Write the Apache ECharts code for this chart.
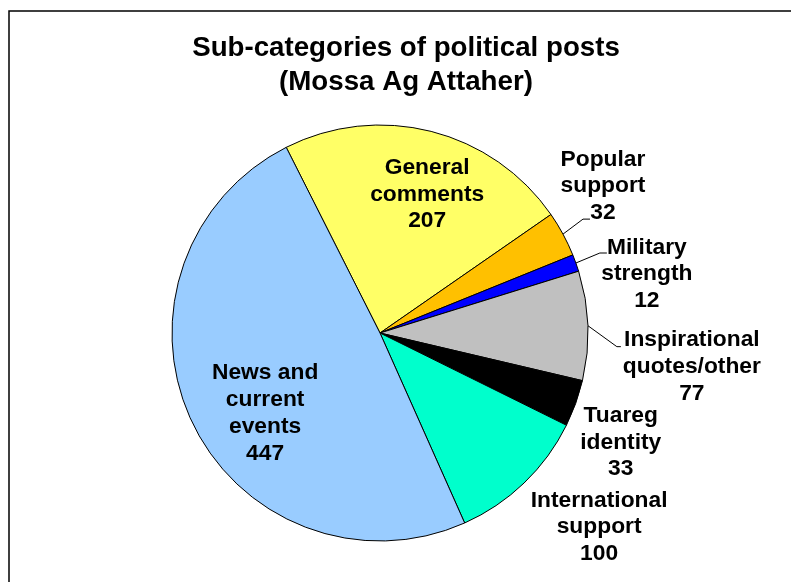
<!DOCTYPE html>
<html>
<head>
<meta charset="utf-8">
<script src="https://cdn.jsdelivr.net/npm/echarts@6/dist/echarts.min.js"></script>
<style>
  html, body { margin: 0; padding: 0; background: #ffffff; }
  #chart { width: 791px; height: 582px; }
</style>
</head>
<body>
<div id="chart"></div>
<script>
// Post counts per political sub-category
const categories = [
  'General\ncomments',
  'Popular\nsupport',
  'Military\nstrength',
  'Inspirational\nquotes/other',
  'Tuareg\nidentity',
  'International\nsupport',
  'News and\ncurrent\nevents'
];
const values = [207, 32, 12, 77, 33, 100, 447];

const sliceColors = ['#FFFF66', '#FFC000', '#0000FF', '#C0C0C0', '#000000', '#00FFCC', '#99CCFF'];

// Label placement, as pixel offsets from the midpoint of each slice's arc.
// "line" holds the elbow and end of the leader line, relative to the same point.
const labelPlacement = [
  { inside: true, off: [-4, 63] },
  { off: [40, -48], line: [[20, -15], [27, -15]] },
  { off: [71, 11],  line: [[24, -10], [31, -10]] },
  { off: [104, 41], line: [[29, 21], [33, 21]] },
  { off: [45, 39] },
  { off: [75, 44] },
  { inside: true, off: [73, -9] }
];

const chart = echarts.init(document.getElementById('chart'), null, { renderer: 'canvas' });

// Midpoint of a slice's outer arc, taken from the pie layout
function arcMid(i) {
  const L = chart.getModel().getSeriesByIndex(0).getData().getItemLayout(i);
  const a = (L.startAngle + L.endAngle) / 2;
  return [L.cx + L.r * Math.cos(a), L.cy + L.r * Math.sin(a)];
}

const font = 'Liberation Sans, Arial, sans-serif';

chart.setOption({
  backgroundColor: '#ffffff',
  animation: false,
  title: {
    text: 'Sub-categories of political posts\n(Mossa Ag Attaher)',
    left: 406,
    top: 31,
    padding: 0,
    textAlign: 'center',
    textStyle: {
      fontFamily: font,
      fontSize: 27.7,
      fontWeight: 'bold',
      lineHeight: 34,
      color: '#000000'
    }
  },
  graphic: [{
    type: 'rect',
    silent: true,
    shape: { x: 9, y: 11, width: 900, height: 800 },
    style: { fill: 'none', stroke: '#000000', lineWidth: 1.5 }
  }],
  series: [{
    type: 'pie',
    center: [380, 333],
    radius: 208,
    startAngle: 116.8,
    clockwise: true,
    avoidLabelOverlap: false,
    silent: true,
    emphasis: { disabled: true },
    itemStyle: { borderColor: '#000000', borderWidth: 1 },
    label: {
      formatter: '{b}\n{c}',
      fontFamily: font,
      fontSize: 22.8,
      fontWeight: 'bold',
      lineHeight: 26.7,
      color: '#000000',
      align: 'center'
    },
    labelLine: { show: false, lineStyle: { color: '#000000', width: 1 } },
    labelLayout: function (p) {
      const pl = labelPlacement[p.dataIndex];
      const m = arcMid(p.dataIndex);
      const res = {
        x: m[0] + pl.off[0],
        y: m[1] + pl.off[1],
        align: 'center',
        verticalAlign: 'middle'
      };
      if (pl.line) {
        res.labelLinePoints = [
          [m[0], m[1]],
          [m[0] + pl.line[0][0], m[1] + pl.line[0][1]],
          [m[0] + pl.line[1][0], m[1] + pl.line[1][1]]
        ];
      }
      return res;
    },
    data: categories.map(function (name, i) {
      const pl = labelPlacement[i];
      return {
        name: name,
        value: values[i],
        itemStyle: { color: sliceColors[i] },
        label: { position: pl.inside ? 'inside' : 'outside' },
        labelLine: { show: !!pl.line, length: 20, length2: 7 }
      };
    })
  }]
});
</script>
</body>
</html>
